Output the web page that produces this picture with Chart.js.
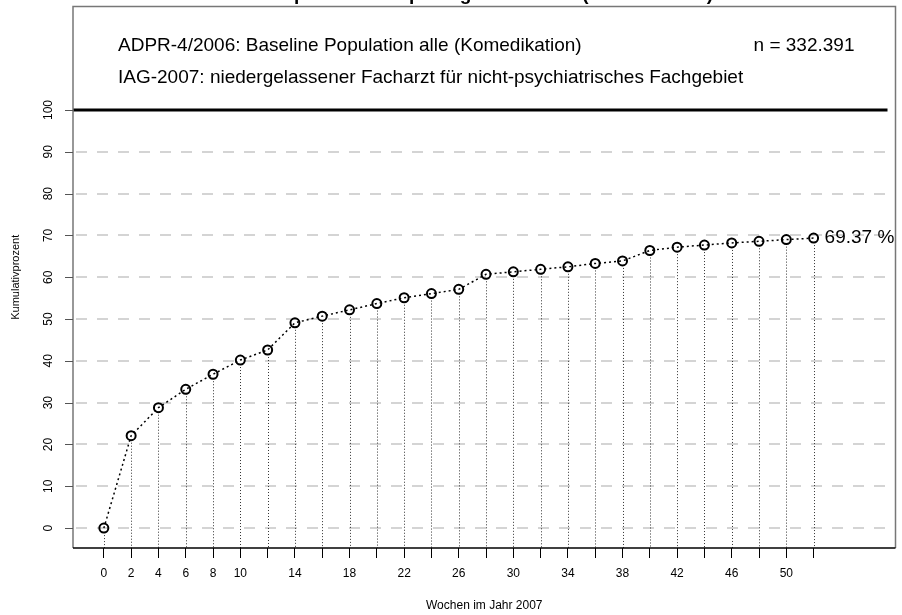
<!DOCTYPE html>
<html>
<head>
<meta charset="utf-8">
<script src="https://cdn.jsdelivr.net/npm/chart.js@4.4.0/dist/chart.umd.min.js"></script>
<style>
  html, body { margin: 0; padding: 0; background: #fff; }
</style>
</head>
<body>
<canvas id="cumChart" width="902" height="615"></canvas>
<script>
// Kumulativer Anteil je Woche (2007)
const weeks = [0, 2, 4, 6, 8, 10, 12, 14, 16, 18, 20, 22, 24, 26, 28, 30, 32, 34, 36, 38, 40, 42, 44, 46, 48, 50, 52];
const cumPercent = [0, 22.1, 28.8, 33.2, 36.8, 40.2, 42.6, 49.1, 50.7, 52.2, 53.7, 55.1, 56.1, 57.1, 60.7, 61.3, 61.9, 62.5, 63.3, 63.9, 66.4, 67.2, 67.7, 68.2, 68.6, 69.0, 69.37];
const xLabelWeeks = [0, 2, 4, 6, 8, 10, 14, 18, 22, 26, 30, 34, 38, 42, 46, 50];
const yTicks = [0, 10, 20, 30, 40, 50, 60, 70, 80, 90, 100];

const chartTitle = 'Antidepressivarezept eingelöst wurde (ADPR-4/2006)';
const infoLine1 = 'ADPR-4/2006: Baseline Population alle (Komedikation)';
const infoLine2 = 'IAG-2007: niedergelassener Facharzt für nicht-psychiatrisches Fachgebiet';
const sampleSize = 'n = 332.391';
const xTitle = 'Wochen im Jahr 2007';
const yTitle = 'Kumulativprozent';

const FONT = '"Liberation Sans", Arial, sans-serif';

// Rahmen, Hilfslinien, Lotlinien und Beschriftungen
const decor = {
    id: 'decor',
    beforeDatasetsDraw(chart) {
        const ctx = chart.ctx;
        const area = chart.chartArea;
        const ys = chart.scales.y;
        ctx.save();

        // horizontale Hilfslinien, 100 % als durchgezogene Linie
        yTicks.forEach(v => {
            const y = Math.round(ys.getPixelForValue(v));
            ctx.beginPath();
            if (v === 100) {
                ctx.setLineDash([]);
                ctx.strokeStyle = '#000';
                ctx.lineWidth = 3;
            } else {
                ctx.setLineDash([11, 10]);
                ctx.lineDashOffset = -3;
                ctx.strokeStyle = '#d4d4d4';
                ctx.lineWidth = 2;
            }
            ctx.moveTo(area.left, y);
            ctx.lineTo(area.right - 8, y);
            ctx.stroke();
        });

        // Lotlinien von jedem Punkt zur x-Achse
        const meta = chart.getDatasetMeta(0);
        ctx.setLineDash([1, 2]);
        ctx.lineDashOffset = 0;
        ctx.strokeStyle = '#333';
        ctx.lineWidth = 1;
        meta.data.forEach(pt => {
            const x = Math.round(pt.x) + 0.5;
            ctx.beginPath();
            ctx.moveTo(x, pt.y + 4);
            ctx.lineTo(x, area.bottom);
            ctx.stroke();
        });

        // Rahmen
        ctx.setLineDash([]);
        ctx.strokeStyle = '#777';
        ctx.lineWidth = 1.5;
        ctx.beginPath();
        ctx.moveTo(area.left, area.bottom);
        ctx.lineTo(area.left, area.top);
        ctx.lineTo(area.right, area.top);
        ctx.lineTo(area.right, area.bottom);
        ctx.stroke();
        ctx.strokeStyle = '#000';
        ctx.beginPath();
        ctx.moveTo(area.left, area.bottom);
        ctx.lineTo(area.right, area.bottom);
        ctx.stroke();

        // y-Achsenstriche
        ctx.strokeStyle = '#555';
        ctx.lineWidth = 1;
        yTicks.forEach(v => {
            const y = Math.round(ys.getPixelForValue(v)) + 0.5;
            ctx.beginPath();
            ctx.moveTo(area.left - 8, y);
            ctx.lineTo(area.left, y);
            ctx.stroke();
        });
        ctx.restore();
    },
    afterDraw(chart) {
        const ctx = chart.ctx;
        const area = chart.chartArea;
        const ys = chart.scales.y;
        const meta = chart.getDatasetMeta(0);
        ctx.save();
        ctx.fillStyle = '#000';

        // Titel (oben angeschnitten)
        ctx.font = 'bold 19px ' + FONT;
        ctx.textAlign = 'center';
        ctx.textBaseline = 'alphabetic';
        ctx.fillText(chartTitle, 474, 0);

        // Infotext im Kopfbereich
        ctx.font = '19px ' + FONT;
        ctx.textAlign = 'left';
        ctx.textBaseline = 'middle';
        ctx.fillText(infoLine1, 118, 46);
        ctx.fillText(infoLine2, 118, 78);
        ctx.textAlign = 'center';
        ctx.fillText(sampleSize, 804, 46);

        // Endwert am letzten Punkt
        const last = meta.data[meta.data.length - 1];
        ctx.textAlign = 'left';
        ctx.fillText(cumPercent[cumPercent.length - 1].toFixed(2) + ' %', last.x + 11, last.y);

        // y-Achsenbeschriftung, gedreht
        ctx.font = '12px ' + FONT;
        ctx.textAlign = 'center';
        yTicks.forEach(v => {
            const y = ys.getPixelForValue(v);
            ctx.save();
            ctx.translate(49, y);
            ctx.rotate(-Math.PI / 2);
            ctx.fillText(String(v), 0, 0);
            ctx.restore();
        });

        ctx.font = '11px ' + FONT;
        ctx.save();
        ctx.translate(16, (area.top + area.bottom) / 2);
        ctx.rotate(-Math.PI / 2);
        ctx.fillText(yTitle, 0, 0);
        ctx.restore();

        ctx.font = '12px ' + FONT;
        ctx.fillText(xTitle, (area.left + area.right) / 2, 606);
        ctx.restore();
    }
};

new Chart(document.getElementById('cumChart'), {
    type: 'line',
    data: {
        datasets: [{
            data: weeks.map((w, i) => ({ x: w, y: cumPercent[i] })),
            borderColor: '#000',
            borderWidth: 1.5,
            borderDash: [2, 3],
            tension: 0,
            fill: false,
            pointRadius: 4.5,
            pointBorderWidth: 2,
            pointBorderColor: '#000',
            pointBackgroundColor: 'rgba(255,255,255,0)'
        }]
    },
    options: {
        responsive: false,
        animation: false,
        layout: { padding: { top: 4, right: 4, left: 0, bottom: 0 } },
        plugins: {
            legend: { display: false },
            tooltip: { enabled: false }
        },
        scales: {
            x: {
                type: 'linear',
                min: -2.26,
                max: 58,
                afterBuildTicks: s => { s.ticks = weeks.map(v => ({ value: v })); },
                afterFit: s => { s.height = 67; },
                ticks: {
                    autoSkip: false,
                    maxRotation: 0,
                    minRotation: 0,
                    padding: 8,
                    color: '#000',
                    font: { family: FONT, size: 12 },
                    callback: v => xLabelWeeks.includes(v) ? String(v) : ''
                },
                grid: {
                    drawOnChartArea: false,
                    drawTicks: true,
                    tickLength: 10,
                    color: '#000',
                    lineWidth: 1
                },
                border: { display: false }
            },
            y: {
                type: 'linear',
                min: -4.76,
                max: 124.76,
                afterBuildTicks: s => { s.ticks = yTicks.map(v => ({ value: v })); },
                afterFit: s => { s.width = 73; },
                ticks: { display: false },
                grid: { display: false },
                border: { display: false }
            }
        }
    },
    plugins: [decor]
});
</script>
</body>
</html>
